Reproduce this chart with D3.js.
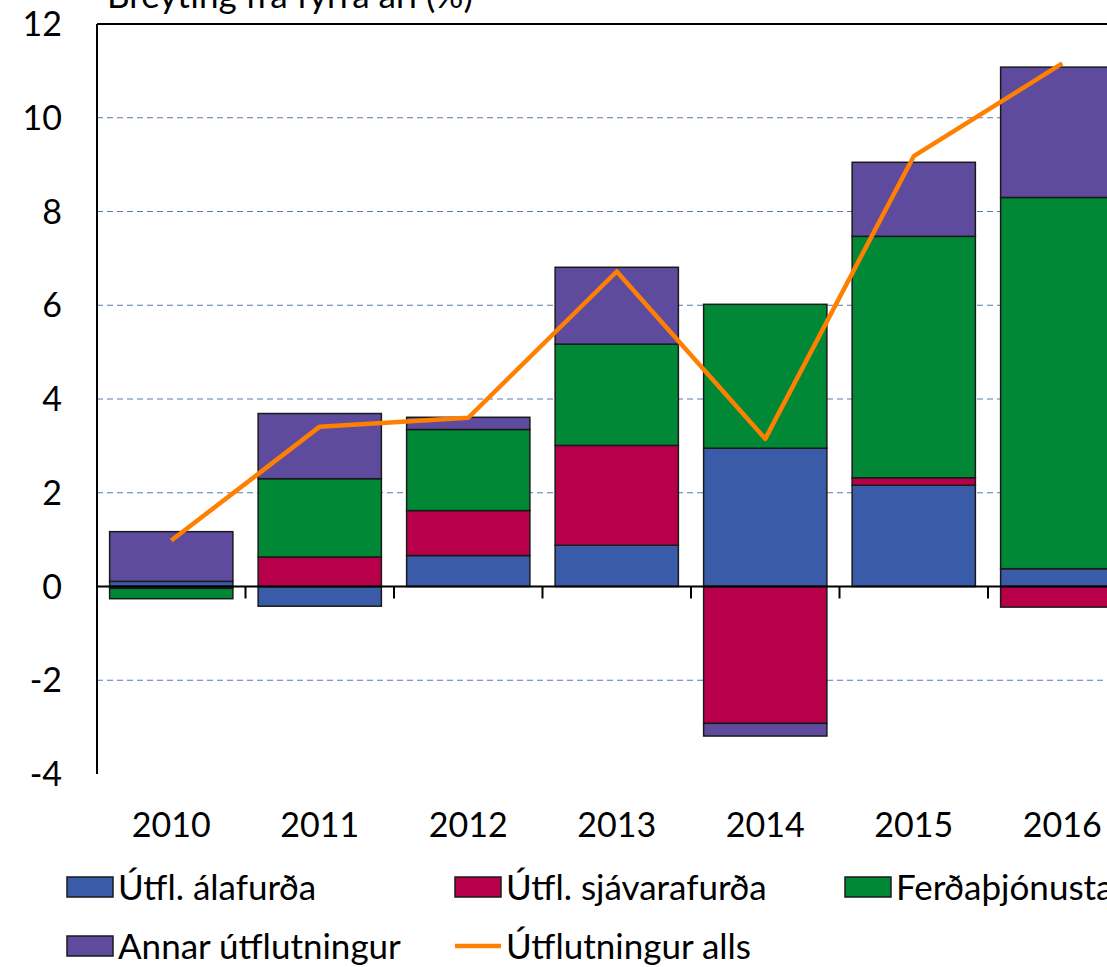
<!DOCTYPE html>
<html>
<head>
<meta charset="utf-8">
<script src="https://cdn.jsdelivr.net/npm/d3@7"></script>
<style>
  body { margin: 0; background: #fff; }
  svg text { font-family: Lato, "Liberation Sans", Arial, sans-serif; fill: #000; }
</style>
</head>
<body>
<svg width="1107" height="967"></svg>
<script>
// Chart data
var years = ["2010", "2011", "2012", "2013", "2014", "2015", "2016"];
var alafurdir = [0.11, -0.42, 0.66, 0.88, 2.95, 2.16, 0.38];
var sjavarafurdir = [-0.04, 0.63, 0.96, 2.13, -2.92, 0.16, -0.44];
var ferdathjonusta = [-0.22, 1.67, 1.73, 2.16, 3.07, 5.15, 7.92];
var annar = [1.06, 1.39, 0.26, 1.64, -0.27, 1.58, 2.78];
var alls = [0.98, 3.41, 3.60, 6.72, 3.15, 9.18, 11.16];
var yTicks = [-4, -2, 0, 2, 4, 6, 8, 10, 12];

var seriesNames = ["Útfl. álafurða", "Útfl. sjávarafurða", "Ferðaþjónusta", "Annar útflutningur"];
var seriesColors = ["#3a5ba7", "#b70049", "#008837", "#5f4b9e"];
var lineName = "Útflutningur alls";
var lineColor = "#ff8000";

var svg = d3.select("svg");
var fs = 34, legFs = 35;

// plot area
var plotLeft = 97, plotTop = 24, plotBottom = 774, step = 148.5;
var plotRight = plotLeft + step * years.length;

var x = d3.scaleBand().domain(years).range([plotLeft, plotRight])
    .paddingInner(0.17).paddingOuter(0.085);
var y = d3.scaleLinear().domain([-4, 12]).range([plotBottom, plotTop]);

// build rows for the stack
var keys = ["a", "s", "f", "n"];
var rows = years.map(function(yr, i) {
    return { year: yr, a: alafurdir[i], s: sjavarafurdir[i], f: ferdathjonusta[i], n: annar[i] };
});
var stacked = d3.stack().keys(keys).offset(d3.stackOffsetDiverging)(rows);

// dashed gridlines
svg.append("g")
    .selectAll("line")
    .data(yTicks.filter(function(d) { return d != 0 && d != 12 && d != -4; }))
    .enter().append("line")
    .attr("x1", plotLeft).attr("x2", plotRight)
    .attr("y1", function(d) { return y(d); })
    .attr("y2", function(d) { return y(d); })
    .attr("stroke", "#5a7bb0")
    .attr("stroke-width", 1.2)
    .attr("stroke-dasharray", "6,4");

// top border
svg.append("line")
    .attr("x1", plotLeft).attr("x2", plotRight)
    .attr("y1", y(12)).attr("y2", y(12))
    .attr("stroke", "#000").attr("stroke-width", 2);

// bars
svg.append("g")
    .selectAll("g")
    .data(stacked)
    .enter().append("g")
    .attr("fill", function(d, i) { return seriesColors[i]; })
    .selectAll("rect")
    .data(function(d) { return d; })
    .enter().append("rect")
    .attr("x", function(d) { return x(d.data.year); })
    .attr("width", x.bandwidth())
    .attr("y", function(d) { return y(Math.max(d[0], d[1])); })
    .attr("height", function(d) { return Math.abs(y(d[0]) - y(d[1])); })
    .attr("stroke", "#1a1a1a")
    .attr("stroke-width", 1.5);

// x axis at zero with ticks between categories
var xAxis = svg.append("g");
xAxis.append("line")
    .attr("x1", plotLeft).attr("x2", plotRight)
    .attr("y1", y(0)).attr("y2", y(0))
    .attr("stroke", "#000").attr("stroke-width", 2);
xAxis.selectAll(".tk")
    .data(years.slice(1))
    .enter().append("line")
    .attr("class", "tk")
    .attr("x1", function(d) { return x(d) - x.step() * x.paddingInner() / 2; })
    .attr("x2", function(d) { return x(d) - x.step() * x.paddingInner() / 2; })
    .attr("y1", y(0)).attr("y2", y(0) + 12)
    .attr("stroke", "#000").attr("stroke-width", 2);

svg.append("g")
    .selectAll("text")
    .data(years)
    .enter().append("text")
    .attr("x", function(d) { return x(d) + x.bandwidth() / 2; })
    .attr("y", 837)
    .attr("text-anchor", "middle")
    .attr("font-size", fs)
    .text(function(d) { return d; });

// y axis
svg.append("line")
    .attr("x1", plotLeft).attr("x2", plotLeft)
    .attr("y1", plotTop).attr("y2", plotBottom)
    .attr("stroke", "#000").attr("stroke-width", 2);

svg.append("g")
    .selectAll("text")
    .data(yTicks)
    .enter().append("text")
    .attr("x", 62)
    .attr("y", function(d) { return y(d); })
    .attr("dy", "0.36em")
    .attr("text-anchor", "end")
    .attr("font-size", fs)
    .text(function(d) { return d; });

// total line
var line = d3.line()
    .x(function(d, i) { return x(years[i]) + x.bandwidth() / 2; })
    .y(function(d) { return y(d); });

svg.append("path")
    .datum(alls)
    .attr("d", line)
    .attr("fill", "none")
    .attr("stroke", lineColor)
    .attr("stroke-width", 4.5)
    .attr("stroke-linejoin", "round");

// title (partly cut off at top)
svg.append("text")
    .attr("x", 107)
    .attr("y", 8)
    .attr("font-size", legFs)
    .text("Breyting frá fyrra ári (%)");

// legend
var legendPos = [
    { x: 67, y: 887 }, { x: 455, y: 887 }, { x: 845, y: 887 }, { x: 67, y: 946 }
];
var leg = svg.append("g");
seriesNames.forEach(function(name, i) {
    var p = legendPos[i];
    leg.append("rect")
        .attr("x", p.x).attr("y", p.y - 10)
        .attr("width", 46).attr("height", 20)
        .attr("fill", seriesColors[i])
        .attr("stroke", "#1a1a1a").attr("stroke-width", 1.5);
    leg.append("text")
        .attr("x", p.x + 51).attr("y", p.y)
        .attr("dy", "0.36em")
        .attr("font-size", legFs)
        .text(name);
});
leg.append("line")
    .attr("x1", 455).attr("x2", 501)
    .attr("y1", 946).attr("y2", 946)
    .attr("stroke", lineColor).attr("stroke-width", 4.5);
leg.append("text")
    .attr("x", 506).attr("y", 946)
    .attr("dy", "0.36em")
    .attr("font-size", legFs)
    .text(lineName);
</script>
</body>
</html>
